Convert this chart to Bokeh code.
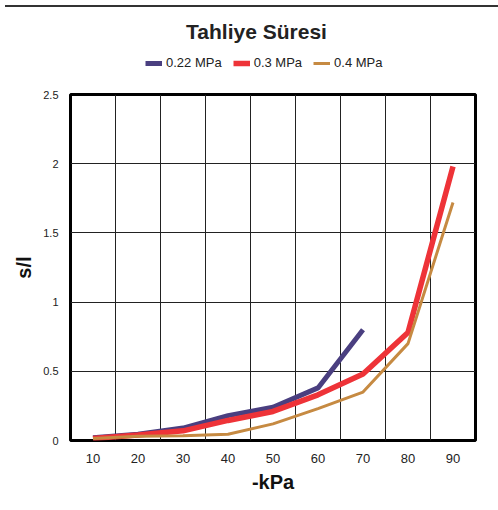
from bokeh.plotting import figure
from bokeh.models import FixedTicker, Legend, LegendItem, Label, Div
from bokeh.layouts import column
from bokeh.embed import file_html
from bokeh.resources import INLINE

# Data
pressure_kpa = [10, 20, 30, 40, 50, 60, 70, 80, 90]
s_022 = [0.02, 0.045, 0.09, 0.18, 0.24, 0.38, 0.80]
s_03 = [0.015, 0.04, 0.07, 0.145, 0.21, 0.33, 0.48, 0.78, 1.98]
s_04 = [0.015, 0.03, 0.035, 0.045, 0.12, 0.23, 0.35, 0.70, 1.72]
series_names = ["0.22 MPa", "0.3 MPa", "0.4 MPa"]
series_values = [s_022, s_03, s_04]
colors = ["#4A3F80", "#EE3338", "#C68A42"]
widths = [5, 5.5, 3]
y_ticks = [0, 0.5, 1, 1.5, 2, 2.5]
y_tick_labels = ["0", "0.5", "1", "1.5", "2", "2.5"]

FONT = "Liberation Sans"

# ---------- header (title + legend) ----------
HDR_H = 73
h = figure(width=490, height=HDR_H, x_range=(5, 95), y_range=(10, 20),
           output_backend="svg", toolbar_location=None,
           min_border_left=70, min_border_right=15,
           min_border_top=0, min_border_bottom=0)
h.axis.visible = False
h.grid.visible = False
h.outline_line_color = None
h.background_fill_color = "white"
h.border_fill_color = "white"

# same series drawn (outside the header's visible range) so the legend has swatches
hdr_r = [h.line(pressure_kpa[:len(v)], v, line_color=c, line_width=w)
         for v, c, w in zip(series_values, colors, widths)]
legend = Legend(items=[LegendItem(label=n, renderers=[r]) for n, r in zip(series_names, hdr_r)],
                orientation="horizontal", location=(75, 15),
                padding=0, margin=0, spacing=11, label_standoff=4,
                glyph_width=17, glyph_height=14,
                border_line_color=None, background_fill_alpha=0,
                label_text_font=FONT, label_text_font_size="13px",
                label_text_color="#222222")
h.add_layout(legend, "center")

h.add_layout(Label(x=186, y=54, x_units="screen", y_units="screen",
                   text="Tahliye Süresi", text_font=FONT, text_font_size="21px",
                   text_font_style="bold", text_color="#222222",
                   text_align="center", text_baseline="middle"))

# ---------- main chart ----------
p = figure(width=490, height=419, x_range=(5, 95), y_range=(0, 2.5),
           output_backend="svg", toolbar_location=None,
           min_border_left=70, min_border_right=15, min_border_top=9,
           min_border_bottom=64)
p.background_fill_color = "white"
p.border_fill_color = "white"
p.outline_line_color = "black"
p.outline_line_width = 3

p.xgrid.ticker = FixedTicker(ticks=[15, 25, 35, 45, 55, 65, 75, 85])
p.ygrid.ticker = FixedTicker(ticks=y_ticks)
for g in (p.xgrid, p.ygrid):
    g.grid_line_color = "#222222"
    g.grid_line_width = 1

p.xaxis.ticker = FixedTicker(ticks=pressure_kpa)
p.yaxis.ticker = FixedTicker(ticks=y_ticks)
p.yaxis.major_label_overrides = {t: l for t, l in zip(y_ticks, y_tick_labels)}
for ax in (p.xaxis[0], p.yaxis[0]):
    ax.axis_line_color = None
    ax.major_tick_line_color = None
    ax.minor_tick_line_color = None
    ax.major_tick_out = 0
    ax.major_tick_in = 0
    ax.major_label_text_font = FONT
    ax.major_label_text_color = "#222222"
    ax.axis_label_text_font = FONT
    ax.axis_label_text_font_style = "bold"
    ax.axis_label_text_color = "#111111"
p.xaxis.major_label_text_font_size = "13px"
p.yaxis.major_label_text_font_size = "11px"
p.xaxis.major_label_standoff = 13
p.yaxis.major_label_standoff = 12
p.xaxis.axis_label = "-kPa"
p.yaxis.axis_label = "s/l"
p.xaxis.axis_label_text_font_size = "20px"
p.yaxis.axis_label_text_font_size = "20px"
p.xaxis.axis_label_standoff = 5
p.yaxis.axis_label_standoff = 5

for v, c, w in zip(series_values, colors, widths):
    p.line(pressure_kpa[:len(v)], v, line_color=c, line_width=w)

top_line = Div(width=498, height=2, styles={"background-color": "#333333"})
layout = column(top_line, h, p, spacing=0)

open("out.html", "w").write(file_html(layout, INLINE))
